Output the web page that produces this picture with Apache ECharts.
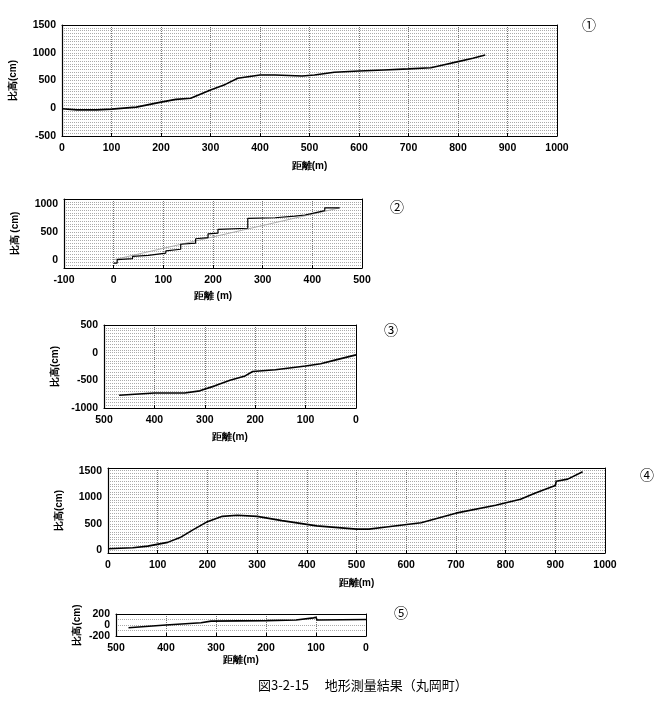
<!DOCTYPE html>
<html><head><meta charset="utf-8">
<script src="https://cdn.jsdelivr.net/npm/echarts@6/dist/echarts.min.js"></script>
<style>html,body{margin:0;padding:0;background:#fff}#c{width:667px;height:704px}</style>
</head><body><div id="c"></div>
<script>
const p1 = [[0,-10],[30,-30],[70,-30],[100,-15],[150,20],[200,110],[230,160],[260,180],[300,330],[330,430],[355,540],[400,600],[430,600],[485,580],[510,600],[550,650],[600,670],[650,690],[700,710],[745,730],[770,780],[800,840],[830,900],[855,960]];
const p2 = [[0,-60],[7,-60],[7,0],[38,20],[38,60],[70,80],[70,110],[105,120],[105,160],[135,190],[135,280],[165,300],[165,380],[190,400],[190,470],[210,480],[210,550],[270,570],[270,750],[325,760],[325,770],[365,790],[365,800],[385,810],[385,840],[405,850],[405,880],[425,890],[425,940],[455,940]];
const p2line = [[0,0],[455,940]];
const p3 = [[470,-770],[400,-730],[340,-730],[310,-690],[280,-600],[250,-500],[220,-420],[205,-340],[160,-310],[100,-240],[70,-200],[40,-130],[0,-40]];
const p4 = [[0,30],[50,50],[80,80],[120,150],[145,240],[170,380],[200,540],[230,640],[260,660],[300,640],[350,560],[420,460],[500,400],[525,400],[560,440],[630,520],[700,700],[780,850],[830,960],[860,1080],[900,1220],[902,1300],[925,1340],[955,1480]];
const p5 = [[475,-50],[400,0],[330,40],[310,70],[200,80],[140,90],[105,130],[100,140],[98,90],[0,100]];

const F = 'Liberation Sans, Arial, sans-serif';
const grids = [
 {left:58, top:25, width:499, height:111},
 {left:64, top:199, width:298, height:69},
 {left:104, top:325, width:252, height:83},
 {left:108, top:468, width:497, height:85},
 {left:116, top:614, width:250, height:22}
];
const xcfg = [
 {min:0,max:1000,inv:false,name:'距離(m)',gap:25},
 {min:-100,max:500,inv:false,name:'距離 (m)',gap:23},
 {min:0,max:500,inv:true,name:'距離(m)',gap:24},
 {min:0,max:1000,inv:false,name:'距離(m)',gap:25},
 {min:0,max:500,inv:true,name:'距離(m)',gap:19}
];
const ycfg = [
 {min:-500,max:1500,interval:50,lab:500,name:'比高(cm)',gap:44},
 {min:-150,max:1100,interval:50,lab:500,name:'比高 (cm)',gap:44},
 {min:-1000,max:500,interval:50,lab:500,name:'比高(cm)',gap:44},
 {min:-50,max:1550,interval:50,lab:500,name:'比高(cm)',gap:44},
 {min:-200,max:200,interval:100,lab:200,name:'比高(cm)',gap:34}
];
const xAxis = xcfg.map((c,i)=>({type:'value',gridIndex:i,min:c.min,max:c.max,interval:100,inverse:c.inv,
 name:c.name,nameLocation:'middle',nameGap:c.gap,nameTextStyle:{fontFamily:F,fontSize:10,fontWeight:'bold',color:'#000'},
 axisLine:{show:true,onZero:false,lineStyle:{color:'#000',width:1.2}},axisTick:{inside:true,length:3,lineStyle:{color:'#000'}},
 axisLabel:{fontFamily:F,fontSize:10.5,fontWeight:'bold',color:'#000',margin:7,formatter:v=>String(v)},
 splitLine:{show:true,lineStyle:{color:'#777',type:'dotted',width:1}}}));
const yAxis = ycfg.map((c,i)=>({type:'value',gridIndex:i,min:c.min,max:c.max,interval:c.interval,
 name:c.name,nameLocation:'middle',nameGap:c.gap,nameRotate:90,nameTextStyle:{fontFamily:F,fontSize:10,fontWeight:'bold',color:'#000'},
 axisLine:{show:true,onZero:false,lineStyle:{color:'#000',width:1.2}},axisTick:{show:false},
 axisLabel:{fontFamily:F,fontSize:10.5,fontWeight:'bold',color:'#000',margin:6,showMinLabel:true,showMaxLabel:true,
   formatter:v=>(Math.round(v)%c.lab===0)?String(v):''},
 splitLine:{show:true,lineStyle:{color:'#aaa',type:'dotted',width:1}}}));
grids.forEach((g,i)=>{
 xAxis.push({type:'value',gridIndex:i,position:'top',min:0,max:1,axisLine:{show:true,onZero:false,lineStyle:{color:'#000'}},axisTick:{show:false},axisLabel:{show:false},splitLine:{show:false}});
 yAxis.push({type:'value',gridIndex:i,position:'right',min:0,max:1,axisLine:{show:true,onZero:false,lineStyle:{color:'#000'}},axisTick:{show:false},axisLabel:{show:false},splitLine:{show:false}});
});
const line=(d,i,extra)=>Object.assign({type:'line',data:d,xAxisIndex:i,yAxisIndex:i,symbol:'none',silent:true,lineStyle:{color:'#000',width:1.6}},extra||{});
const series=[line(p1,0),line(p2line,1,{lineStyle:{color:'#999',width:0.8}}),line(p2,1,{lineStyle:{color:'#000',width:1.2}}),line(p3,2),line(p4,3),line(p5,4)];
const circ=(t,x,y)=>({type:'text',left:x,top:y,style:{text:t,font:'14px "Noto Sans CJK JP"',fill:'#000'}});
const chart=echarts.init(document.getElementById('c'),null,{renderer:'canvas'});
chart.setOption({animation:false,backgroundColor:'#fff',grid:grids,xAxis,yAxis,series,
 graphic:[circ('①',582,18),circ('②',390,200),circ('③',384,323),circ('④',640,468),circ('⑤',394,606),
 {type:'text',left:258,top:679,style:{text:'図3-2-15　 地形測量結果（丸岡町）',font:'13px "Noto Sans CJK JP"',fill:'#000'}}]});
</script></body></html>
